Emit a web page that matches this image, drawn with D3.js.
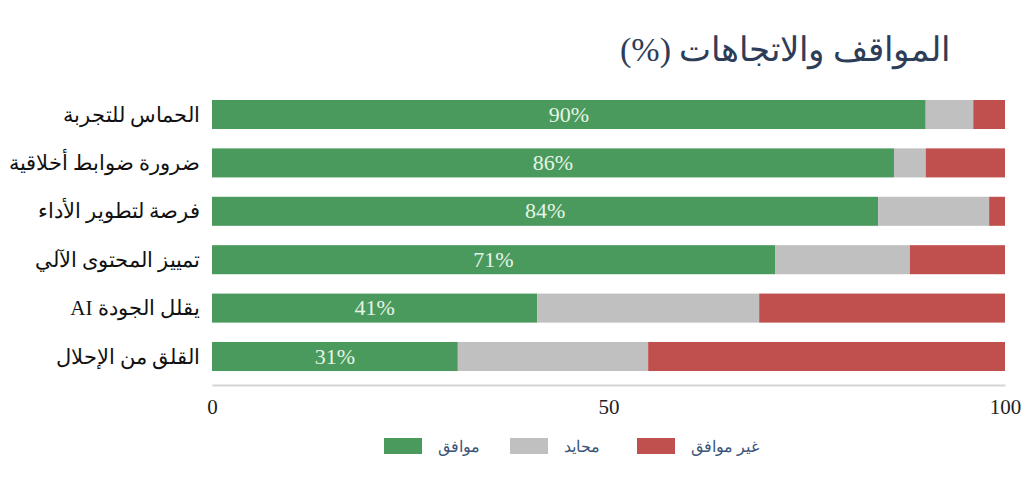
<!DOCTYPE html>
<html>
<head>
<meta charset="utf-8">
<script src="https://cdn.jsdelivr.net/npm/d3@7/dist/d3.min.js"></script>
<style>
  body { margin: 0; background: #fff; }
  svg { display: block; font-family: "Liberation Serif", "DejaVu Serif", serif; }
</style>
</head>
<body>
<svg id="svg1" width="1024" height="481"></svg>
<script>
var categories = ['الحماس للتجربة',
                  'ضرورة ضوابط أخلاقية',
                  'فرصة لتطوير الأداء',
                  'تمييز المحتوى الآلي',
                  'يقلل الجودة AI',
                  'القلق من الإحلال'];

var agree    = [90, 86, 84, 71, 41, 31];
var neutral  = [6, 4, 14, 17, 28, 24];
var disagree = [4, 10, 2, 12, 31, 45];

var seriesNames = ['موافق', 'محايد', 'غير موافق'];
var seriesColors = ['#4a9a5d', '#c0c0c0', '#c0504d'];
var tickValues = [0, 50, 100];

var svg = d3.select('#svg1');

//rows for the stack
var rows = categories.map(function(c, i){
    return {name: c, s0: agree[i], s1: neutral[i], s2: disagree[i]};
});
var stacked = d3.stack().keys(['s0', 's1', 's2'])(rows);

var x = d3.scaleLinear()
    .domain([0, 100])
    .range([212, 1005]);

var y = d3.scaleBand()
    .domain(categories)
    .range([90.3, 380.7])
    .paddingInner(0.4)
    .paddingOuter(0.2);

//title (rtl: start = right edge)
svg.append('text')
    .attr('x', 950)
    .attr('y', 61)
    .attr('text-anchor', 'start')
    .attr('direction', 'rtl')
    .attr('font-size', 34)
    .attr('fill', '#2e3d57')
    .text('المواقف والاتجاهات (%)');

//bars
svg.selectAll('g.layer')
    .data(stacked)
    .enter()
    .append('g')
    .attr('class', 'layer')
    .attr('fill', function(d, i){ return seriesColors[i]; })
    .selectAll('rect')
    .data(function(d){ return d; })
    .enter()
    .append('rect')
    .attr('x', function(d){ return x(d[0]); })
    .attr('width', function(d){ return x(d[1]) - x(d[0]); })
    .attr('y', function(d){ return y(d.data.name); })
    .attr('height', y.bandwidth());

//value labels in the green part
svg.selectAll('text.val')
    .data(rows)
    .enter()
    .append('text')
    .attr('class', 'val')
    .attr('x', function(d){ return x(d.s0 / 2); })
    .attr('y', function(d){ return y(d.name) + y.bandwidth() / 2 + 7; })
    .attr('text-anchor', 'middle')
    .attr('font-size', 22)
    .attr('fill', '#e6f4e6')
    .text(function(d){ return d.s0 + '%'; });

//category labels
svg.selectAll('text.cat')
    .data(categories)
    .enter()
    .append('text')
    .attr('class', 'cat')
    .attr('x', 200)
    .attr('y', function(d){ return y(d) + y.bandwidth() / 2 + 7; })
    .attr('text-anchor', 'start')
    .attr('direction', 'rtl')
    .attr('font-size', 21)
    .attr('fill', '#111')
    .text(function(d){ return d; });

//x axis
var xAxis = svg.append('g')
    .attr('transform', 'translate(0,385)')
    .call(d3.axisBottom(x).tickValues(tickValues).tickSize(0).tickPadding(14));
xAxis.select('.domain')
    .attr('stroke', '#d4d4d4')
    .attr('stroke-width', 2);
xAxis.selectAll('text')
    .attr('font-family', '"Liberation Serif", serif')
    .attr('font-size', 21)
    .attr('fill', '#222');

//legend
var legendX = [384, 510, 637];
var legend = svg.selectAll('g.legend')
    .data(seriesNames)
    .enter()
    .append('g')
    .attr('class', 'legend')
    .attr('transform', function(d, i){ return 'translate(' + legendX[i] + ',438)'; });

legend.append('rect')
    .attr('width', 38)
    .attr('height', 16)
    .attr('fill', function(d, i){ return seriesColors[i]; });

legend.append('text')
    .attr('x', 54)
    .attr('y', 14)
    .attr('text-anchor', 'start')
    .attr('font-size', 16)
    .attr('fill', '#3b5578')
    .text(function(d){ return d; });
</script>
</body>
</html>
